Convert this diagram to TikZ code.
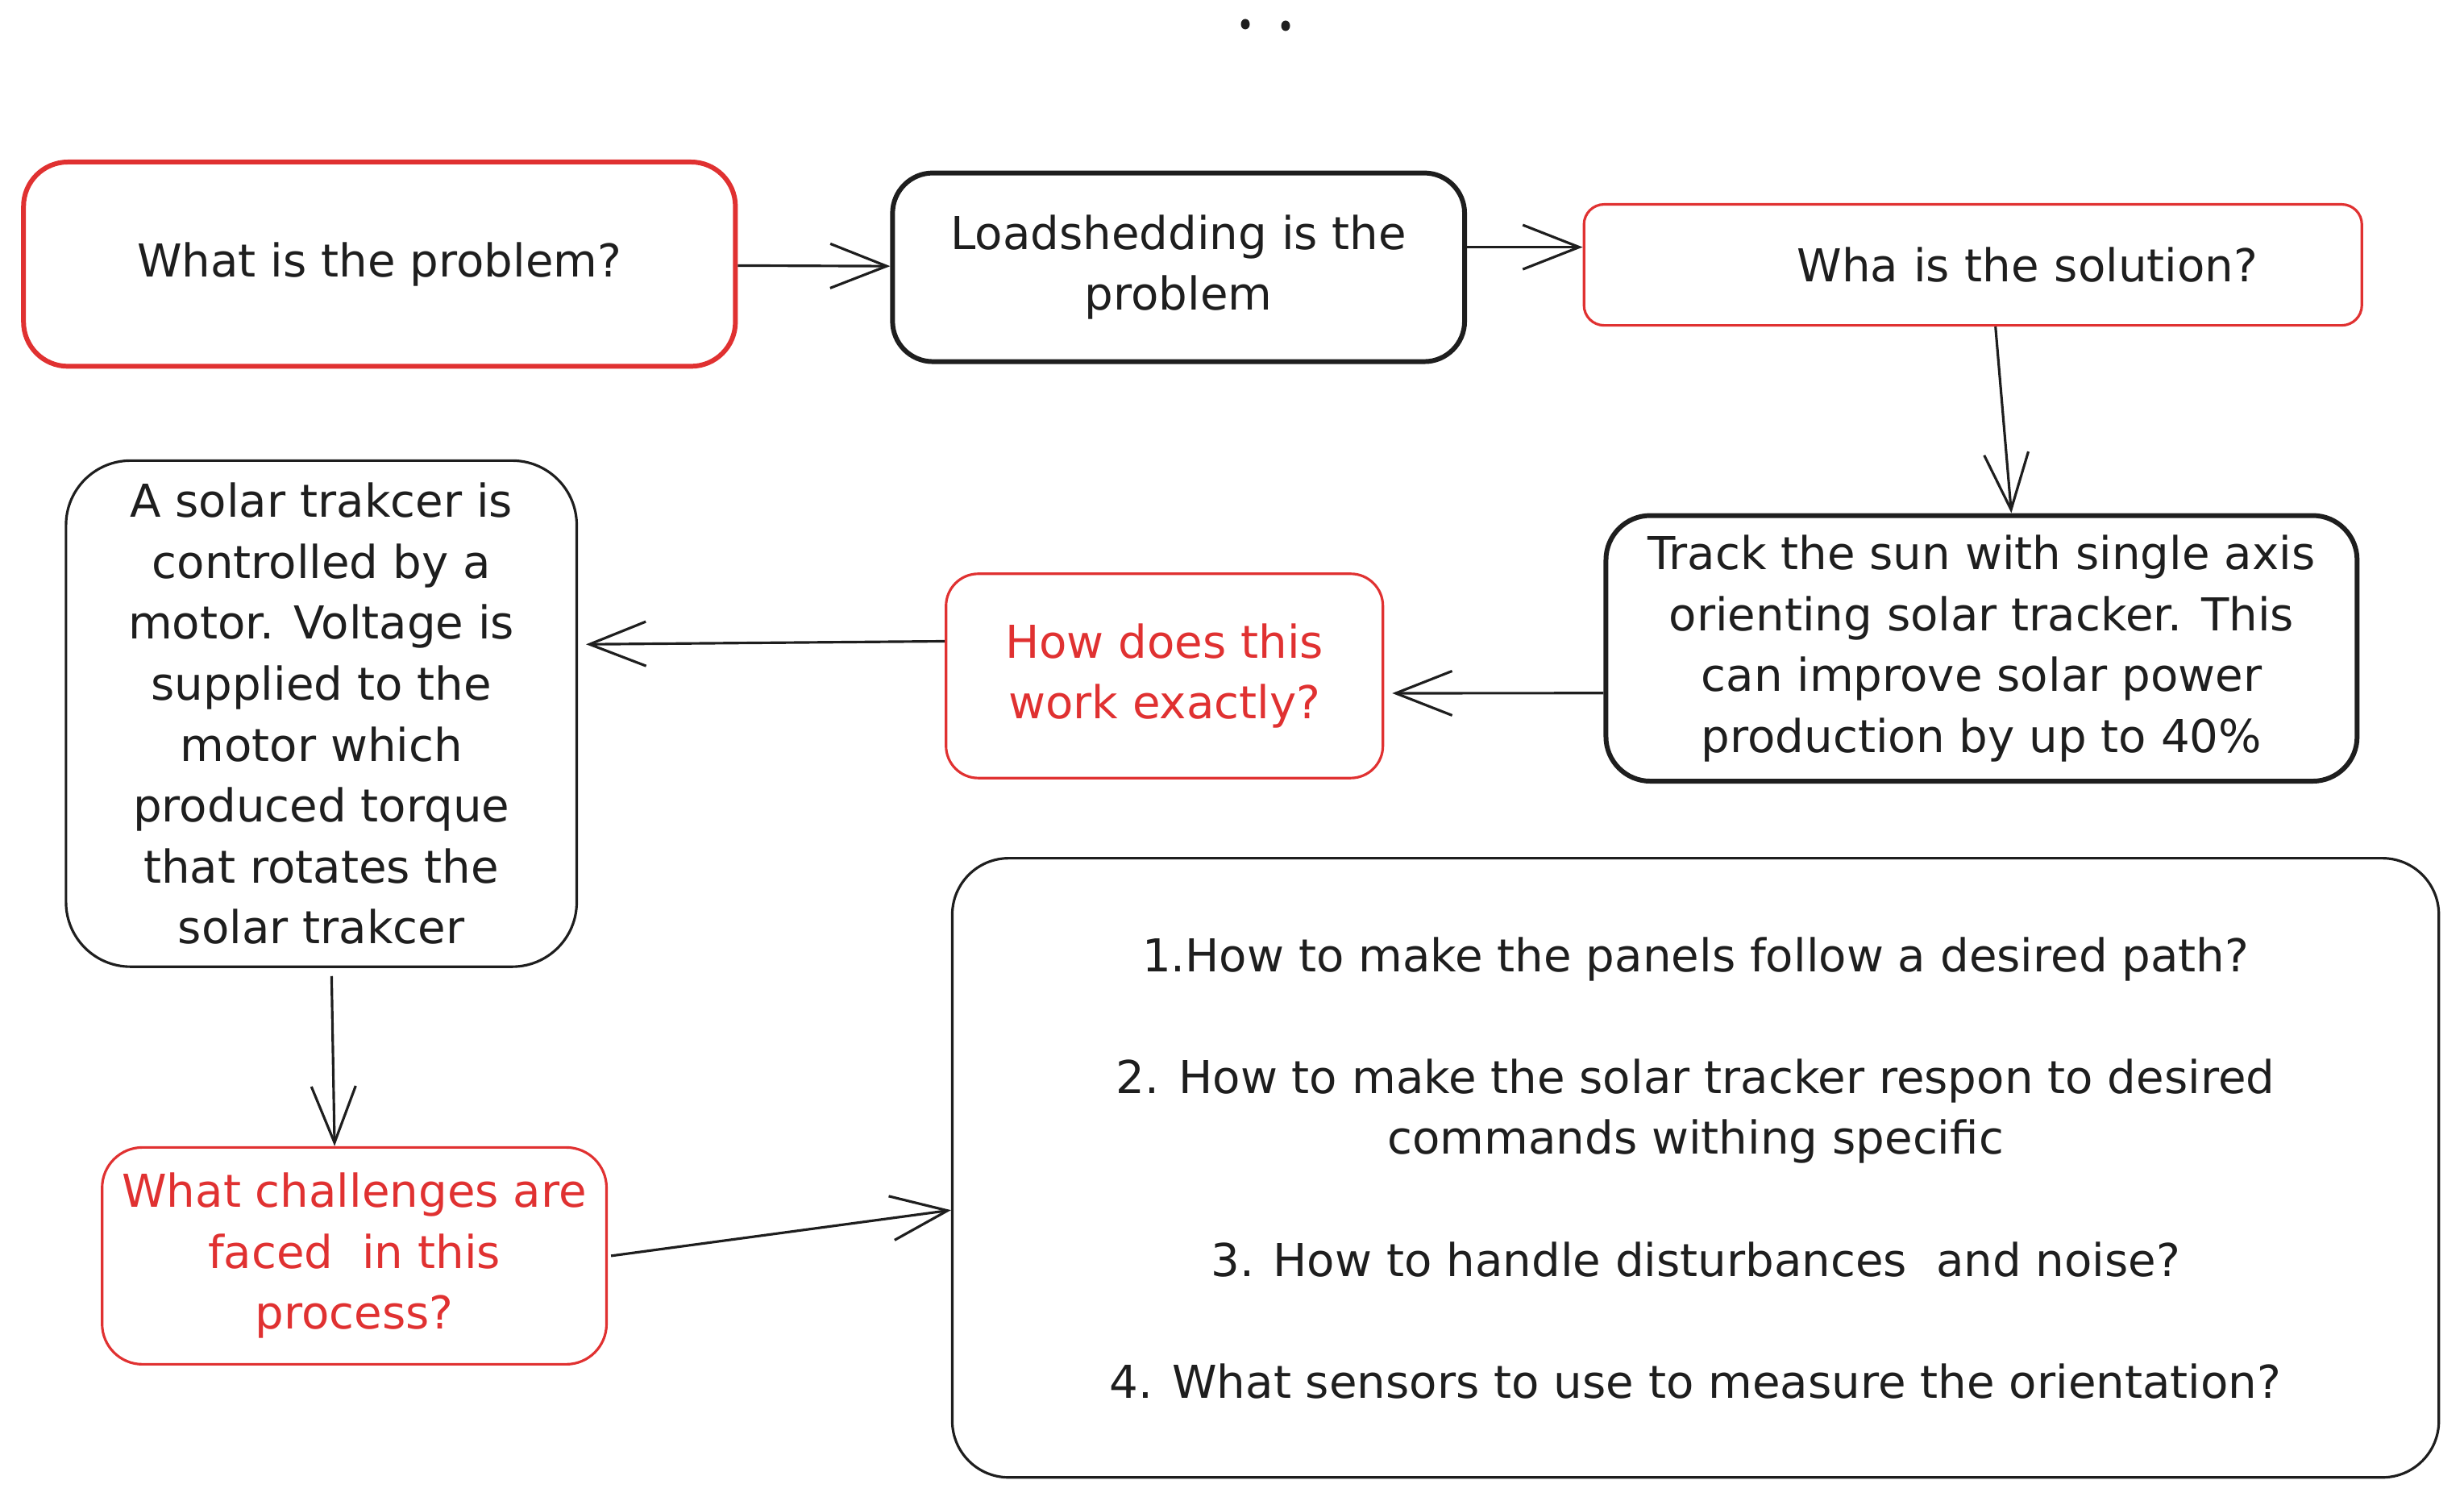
\documentclass[tikz,border=0pt]{standalone}
\usepackage{fontspec}
\setmainfont{DejaVu Sans}
\usepackage{xcolor}
\usepackage{tikz}
\definecolor{inkred}{RGB}{224,49,49}
\definecolor{inkblack}{RGB}{30,30,30}
\usetikzlibrary{shapes,arrows.meta,calc}

\begin{document}
\begin{tikzpicture}[
    font=\fontsize{16}{21.5}\selectfont,
    redbox/.style={rectangle, draw=inkred, text=inkblack, align=center, inner sep=2pt},
    blackbox/.style={rectangle, draw=inkblack, text=inkblack, align=center, inner sep=2pt},
    heavy/.style={line width=1.7pt},
    light/.style={line width=0.9pt},
    arrow/.style={-{Straight Barb[length=0.7cm,width=0.55cm]}, draw=inkblack, line width=0.9pt}
]
\useasboundingbox (0,0) rectangle (30.57,18.62);

% two dots on top
\fill[inkblack] (15.45,18.32) ellipse (0.055 and 0.065);
\fill[inkblack] (15.95,18.30) ellipse (0.055 and 0.065);

% top row
\node[redbox, heavy, rounded corners=0.55cm, minimum width=8.832cm, minimum height=2.534cm] (problem) at (4.708,15.343) {What is the problem?};
\node[blackbox, heavy, rounded corners=0.5cm, minimum width=7.097cm, minimum height=2.34cm] (loadshed) at (14.622,15.304) {Loadshedding is the\\problem};
\node[redbox, light, rounded corners=0.25cm, minimum width=9.651cm, minimum height=1.501cm, inner xsep=1.29cm, text width=7.071cm, align=right] (solution) at (24.477,15.334) {Wha is the solution?};

% middle row
\node[blackbox, heavy, rounded corners=0.55cm, minimum width=9.319cm, minimum height=3.295cm] (tracker) at (24.584,10.577) {Track the sun with single axis\\orienting solar tracker. This\\can improve solar power\\production by up to 40\%};
\node[redbox, light, text=inkred, rounded corners=0.4cm, minimum width=5.42cm, minimum height=2.534cm] (howwork) at (14.447,10.235) {How does this\\work exactly?};
\node[blackbox, light, rounded corners=0.8cm, minimum width=6.336cm, minimum height=6.278cm] (motor) at (3.987,9.767) {A solar trakcer is\\controlled by a\\motor. Voltage is\\supplied to the\\motor which\\produced torque\\that rotates the\\solar trakcer};

% bottom row
\node[redbox, light, text=inkred, rounded corners=0.5cm, minimum width=6.258cm, minimum height=2.69cm] (challenge) at (4.396,3.041) {What challenges are\\faced~ in this\\process?};
\node[blackbox, light, rounded corners=0.7cm, minimum width=18.443cm, minimum height=7.681cm] (questions) at (21.036,4.133) {1.How to make the panels follow a desired path?\\[21.5pt]
2. How to make the solar tracker respon to desired\\commands withing specific\\[21.5pt]
3. How to handle disturbances~ and noise?\\[21.5pt]
4. What sensors to use to measure the orientation?};

% Arrows
\draw[arrow] (problem) -- (loadshed);
\draw[arrow] ([yshift=0.25cm]loadshed.east) -- ([yshift=0.22cm]solution.west);
\draw[arrow] ([xshift=0.28cm]solution.south) -- ([xshift=0.37cm]tracker.north);
\draw[arrow] ([yshift=-0.555cm]tracker.west) -- ([xshift=0.1cm, yshift=-0.215cm]howwork.east);
\draw[arrow] ([yshift=0.43cm]howwork.west) -- ([xshift=0.1cm, yshift=0.86cm]motor.east);
\draw[arrow] ([xshift=0.127cm, yshift=-0.1cm]motor.south) -- ([xshift=-0.245cm]challenge.north);
\draw[arrow] ([xshift=0.04cm]challenge.east) -- ([yshift=-0.525cm]questions.west);

\end{tikzpicture}
\end{document}
